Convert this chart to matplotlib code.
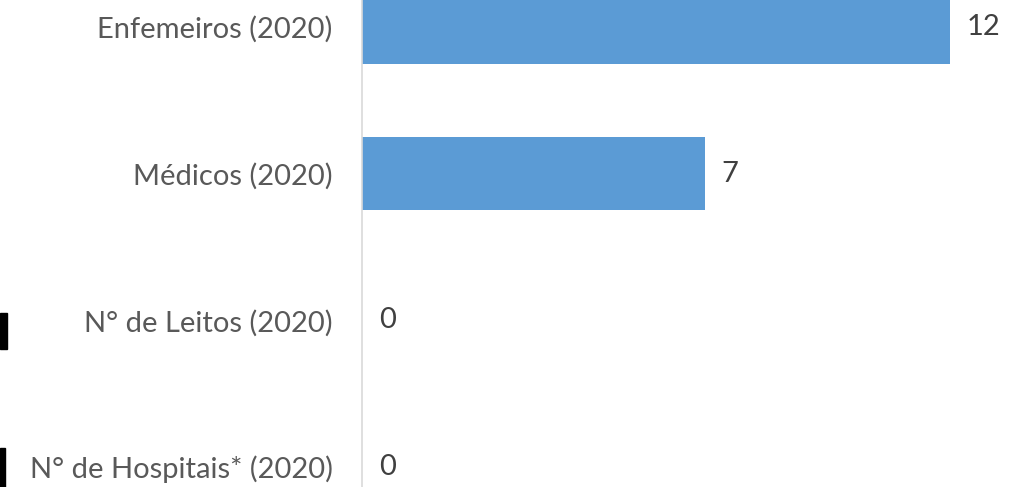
import matplotlib
matplotlib.use("Agg")
import matplotlib.pyplot as plt
from matplotlib.patches import Rectangle

# data, bottom to top
categories = ["N° de Hospitais* (2020)", "N° de Leitos (2020)", "Médicos (2020)", "Enfemeiros (2020)"]
values = [0, 0, 7, 12]

bar_color = "#5B9BD5"
text_color = "#595959"

plt.rcParams['font.family'] = ['Lato', 'DejaVu Sans']

fig = plt.figure(figsize=(10.14, 4.87), dpi=100)
ax = fig.add_axes([0.357, 0.0, 0.643, 1.0])

pos = list(range(len(categories)))
ax.barh(pos, values, height=0.5, color=bar_color)

ax.set_xlim(0, 13.31)
ax.set_ylim(-0.136, 3.183)

ax.set_yticks(pos)
ax.set_yticklabels(categories, fontsize=21, color=text_color)
ax.tick_params(axis='y', length=0, pad=21)
ax.set_xticks([])

for s in ["top", "right", "bottom"]:
    ax.spines[s].set_visible(False)
ax.spines["left"].set_color("#D9D9D9")
ax.spines["left"].set_linewidth(1.2)

# value labels
for p, v in zip(pos, values):
    ax.annotate(str(v), xy=(v, p), xytext=(12, 0), textcoords="offset points",
                va="center", ha="left", fontsize=21, color="#404040")

# bits of black at the left edge of the reference crop
fig.patches.append(Rectangle((0.0, 1 - 349 / 487), 7 / 1014, 36 / 487,
                             transform=fig.transFigure, color="black", zorder=5))
fig.patches.append(Rectangle((0.0, 0.0), 5 / 1014, 39 / 487,
                             transform=fig.transFigure, color="black", zorder=5))

fig.savefig("out.png", dpi=100)
